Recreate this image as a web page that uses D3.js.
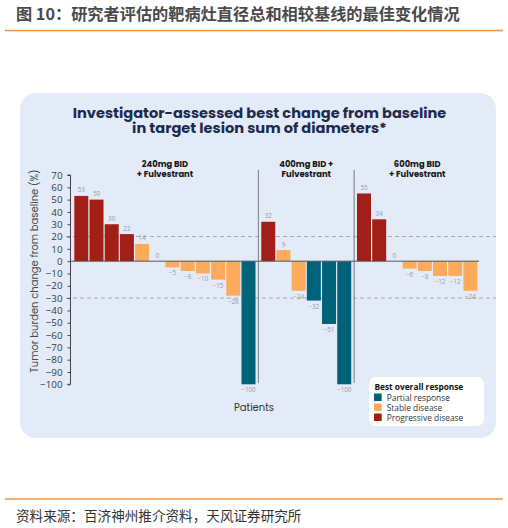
<!DOCTYPE html>
<html><head><meta charset="utf-8">
<script src="https://cdn.jsdelivr.net/npm/d3@7"></script>
<style>
html,body{margin:0;padding:0;background:#fff;}
svg{display:block;}
</style></head>
<body>
<script>
// ---- data ----
const groups = ["240mg BID|+ Fulvestrant", "400mg BID +|Fulvestrant", "600mg BID|+ Fulvestrant"];
const group1Values = [53, 50, 30, 22, 14, 0, -5, -8, -10, -15, -28, -100];
const group1Response = ["PD","PD","PD","PD","SD","SD","SD","SD","SD","SD","SD","PR"];
const group2Values = [32, 9, -24, -32, -51, -100];
const group2Response = ["PD","SD","SD","PR","PR","PR"];
const group3Values = [55, 34, 0, -6, -8, -12, -12, -24];
const group3Response = ["PD","PD","SD","SD","SD","SD","SD","SD"];
const yTicks = [70,60,50,40,30,20,10,0,-10,-20,-30,-40,-50,-60,-70,-80,-90,-100];
const refLines = [20, -30];
const responseKeys = ["PR","SD","PD"];
const responseLabels = ["Partial response","Stable disease","Progressive disease"];
const responseColors = ["#00627a","#fdab5a","#a11f17"];

const W = 508, H = 528;
const svg = d3.select("body").append("svg").attr("width", W).attr("height", H);

// header
svg.append("text").attr("x", 16).attr("y", 20)
  .attr("font-family", "'Noto Sans CJK SC', sans-serif").attr("font-size", 16.2)
  .attr("font-weight", 700).attr("fill", "#4a4a4a")
  .text("图 10：研究者评估的靶病灶直径总和相较基线的最佳变化情况");
svg.append("line").attr("x1", 5).attr("x2", 503).attr("y1", 30.5).attr("y2", 30.5)
  .attr("stroke", "#f3913b").attr("stroke-width", 1.5);
svg.append("line").attr("x1", 5).attr("x2", 503).attr("y1", 499).attr("y2", 499)
  .attr("stroke", "#f3913b").attr("stroke-width", 1.5);
svg.append("text").attr("x", 16).attr("y", 521)
  .attr("font-family", "'Noto Sans CJK SC', sans-serif").attr("font-size", 13.6)
  .attr("fill", "#333").text("资料来源：百济神州推介资料，天风证券研究所");

// panel
svg.append("rect").attr("x", 20).attr("y", 93).attr("width", 476).attr("height", 345)
  .attr("rx", 16).attr("fill", "#e2ebf7");

// title
const titleLines = ["Investigator-assessed best change from baseline", "in target lesion sum of diameters*"];
const title = svg.append("text").attr("text-anchor", "middle")
  .attr("font-family", "Poppins, 'Open Sans', sans-serif").attr("font-weight", 700)
  .attr("font-size", 15).attr("fill", "#1e2a4c");
titleLines.forEach((t, i) => title.append("tspan").attr("x", 259.5).attr("y", 117.8 + i * 15.6).text(t));
// fit first line width
const l1 = title.select("tspan").node().getComputedTextLength();
title.attr("font-size", 15 * 374 / l1);

// data rows
const allVals = [group1Values, group2Values, group3Values];
const allResp = [group1Response, group2Response, group3Response];
const gap = 0.3;
const rows = [];
let idx = 0;
allVals.forEach((vals, g) => {
  vals.forEach((v, i) => {
    rows.push({g, i, v, r: allResp[g][i], pos: idx + g * gap});
    idx++;
  });
});
const maxPos = d3.max(rows, d => d.pos);

const x = d3.scaleLinear().domain([-0.5, maxPos + 0.5]).range([73.7, 478]);
const y = d3.scaleLinear().domain([-100, 70]).range([384.3, 175]);
const color = d3.scaleOrdinal().domain(responseKeys).range(responseColors);
const step = x(1) - x(0);
const bw = step - 1.2;

// reference dashed lines
svg.selectAll(".ref").data(refLines).join("line")
  .attr("x1", 66).attr("x2", 496)
  .attr("y1", d => y(d)).attr("y2", d => y(d))
  .attr("stroke", "#9a9a9a").attr("stroke-width", 0.8).attr("stroke-dasharray", "4,3");

// group separators
const groupBounds = groups.map((_, g) => {
  const gr = rows.filter(d => d.g === g);
  return [d3.min(gr, d => d.pos), d3.max(gr, d => d.pos)];
});
for (let g = 0; g < groups.length - 1; g++) {
  const sx = (x(groupBounds[g][1]) + x(groupBounds[g + 1][0])) / 2;
  svg.append("line").attr("x1", sx).attr("x2", sx).attr("y1", 170).attr("y2", 383)
    .attr("stroke", "#7a7a7a").attr("stroke-width", 1);
}

// bars
svg.selectAll(".bar").data(rows.filter(d => d.v !== 0)).join("rect")
  .attr("x", d => x(d.pos) - bw / 2).attr("width", bw)
  .attr("y", d => y(Math.max(0, d.v))).attr("height", d => Math.abs(y(d.v) - y(0)))
  .attr("fill", d => color(d.r));

// value labels
svg.selectAll(".vl").data(rows).join("text")
  .attr("x", d => x(d.pos)).attr("y", d => d.v >= 0 ? y(d.v) - 3.5 : y(d.v) + 8)
  .attr("text-anchor", "middle").attr("font-family", "'Open Sans', sans-serif")
  .attr("font-size", 6.3).attr("fill", "#9a9a9a")
  .text(d => d3.format("")(d.v));

// zero line
svg.append("line").attr("x1", 70.5).attr("x2", 479).attr("y1", y(0)).attr("y2", y(0))
  .attr("stroke", "#555").attr("stroke-width", 1);

// y axis
const yAxis = svg.append("g").attr("transform", "translate(70.5,0)")
  .call(d3.axisLeft(y).tickValues(yTicks).tickSize(3).tickPadding(5).tickFormat(d3.format("")));
yAxis.select(".domain").attr("stroke", "#444").attr("d", `M-3,${y(70)}H0V${y(-100)}H-3`);
yAxis.selectAll(".tick line").attr("stroke", "#444");
yAxis.selectAll(".tick text").attr("font-family", "'Open Sans', sans-serif")
  .attr("font-size", 9.8).attr("fill", "#3a3a3a");

// y axis title
svg.append("text").attr("transform", "translate(38,271) rotate(-90)")
  .attr("text-anchor", "middle").attr("font-family", "Poppins, 'Open Sans', sans-serif")
  .attr("font-size", 10).attr("fill", "#4a4a4a")
  .text("Tumor burden change from baseline (%)");

// group labels
groups.forEach((gname, g) => {
  const cx = (x(groupBounds[g][0]) + x(groupBounds[g][1])) / 2;
  const t = svg.append("text").attr("text-anchor", "middle")
    .attr("font-family", "Poppins, 'Open Sans', sans-serif").attr("font-weight", 700)
    .attr("font-size", 8.4).attr("fill", "#151515");
  gname.split("|").forEach((s, i) => t.append("tspan").attr("x", cx).attr("y", 166.5 + i * 10.8).text(s));
});

// x axis label
svg.append("text").attr("x", 254).attr("y", 411).attr("text-anchor", "middle")
  .attr("font-family", "Poppins, 'Open Sans', sans-serif").attr("font-size", 10)
  .attr("fill", "#333").text("Patients");

// legend
const lg = svg.append("g").attr("transform", "translate(369,377)");
lg.append("rect").attr("width", 115).attr("height", 49).attr("rx", 7).attr("fill", "#fff");
lg.append("text").attr("x", 5.5).attr("y", 13).attr("font-family", "'Open Sans', sans-serif")
  .attr("font-weight", 700).attr("font-size", 8.3).attr("fill", "#111").text("Best overall response");
responseKeys.forEach((k, i) => {
  lg.append("rect").attr("x", 5).attr("y", 16.5 + i * 10).attr("width", 7.7).attr("height", 7.5)
    .attr("fill", color(k));
  lg.append("text").attr("x", 17.7).attr("y", 23.5 + i * 10).attr("font-family", "'Open Sans', sans-serif")
    .attr("font-size", 8.4).attr("fill", "#333").text(responseLabels[i]);
});
</script>
</body></html>
